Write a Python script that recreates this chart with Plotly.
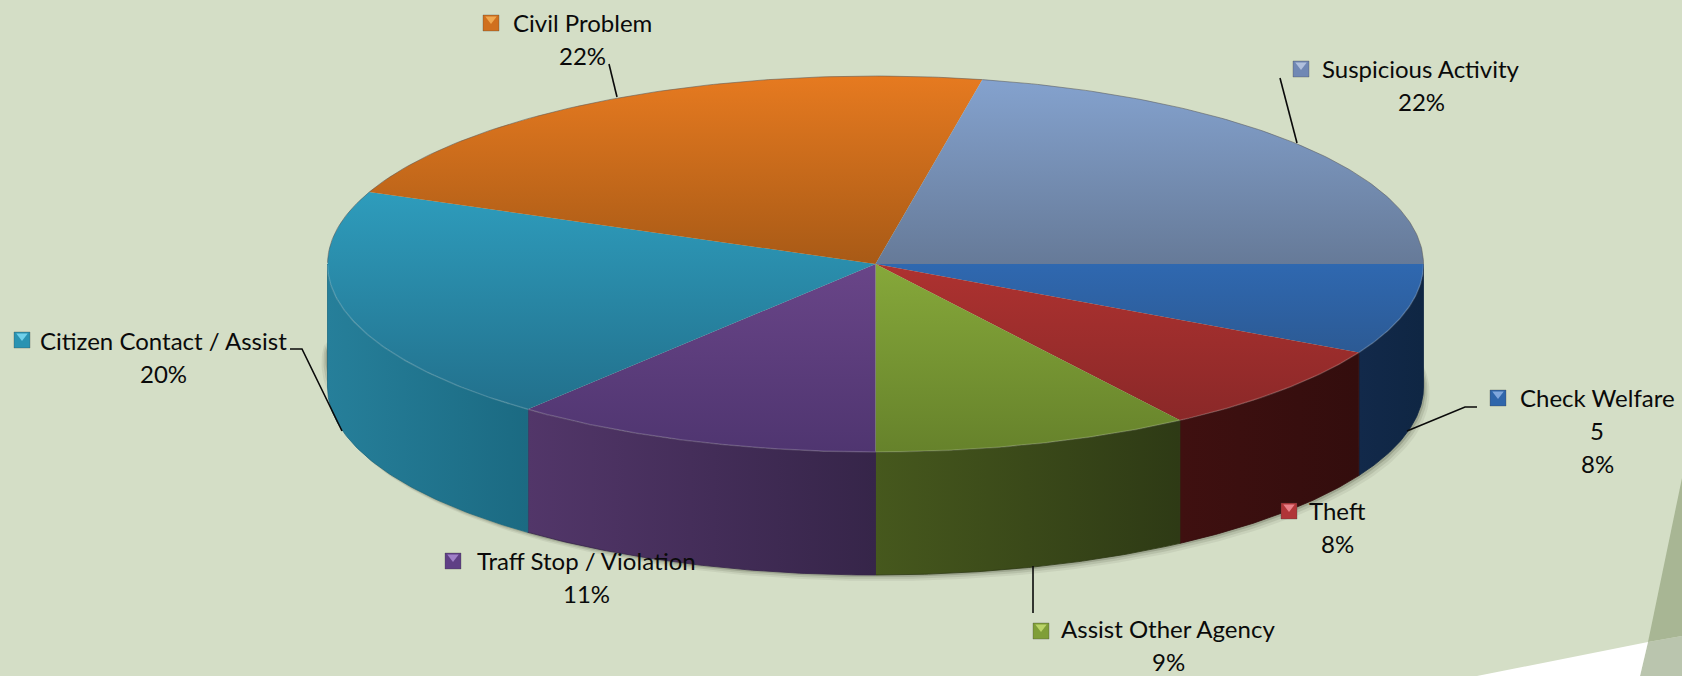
import numpy as np
import plotly.graph_objects as go

# ---- data (clockwise from 3 o'clock)
categories = ["Check Welfare", "Theft", "Assist Other Agency", "Traff Stop / Violation",
              "Citizen Contact / Assist", "Civil Problem", "Suspicious Activity"]
values = [5, 5, 6, 7, 13, 14, 14]
percent_labels = ["8%", "8%", "9%", "11%", "20%", "22%", "22%"]
extra_lines = ["5", "", "", "", "", "", ""]

# ---- style
top_start = ["#2F68B0", "#AE3230", "#86A83A", "#694588", "#2E9CBC", "#E67A20", "#84A2CE"]
top_stop = ["#2C5A94", "#8A2828", "#66822B", "#4F3570", "#22708C", "#A85A16", "#667A98"]
wall_start = ["#0F2643", "#330D0D", "#2E3A15", "#362549", "#1B6A82", "", ""]
wall_stop = ["#12294A", "#3F1010", "#46581D", "#523669", "#267F9A", "", ""]
key_colors = ["#2F66AB", "#B03538", "#7F9E38", "#5F3F85", "#2A93B2", "#D0701E", "#7088B4"]
key_light = ["#7FA6DC", "#E88088", "#BAD468", "#A080C8", "#70D0EA", "#F0A850", "#B0C0DC"]

BG = "#D4DEC6"
CX, CY, RX, RY, DEPTH = 875.5, 264, 548, 188, 123
FONT = dict(family="Lato, Carlito, Calibri, sans-serif", size=24, color="#0A0A0A")

# label anchors: text centre x, first line y, key x, key y
label_pos = [(1597, 397, 1498, 398), (1337, 510, 1289, 511), (1168, 628.5, 1041, 631),
             (586, 560, 453, 561), (163, 340, 22, 340), (582, 22, 491, 23), (1421, 68, 1301, 69)]
LINE_H = 33
leaders = {
    "Check Welfare": ([1477, 1465, 1407], [407, 407, 431]),
    "Assist Other Agency": ([1033, 1033], [566, 613]),
    "Citizen Contact / Assist": ([290, 302, 342], [349, 349, 431]),
    "Civil Problem": ([609, 617], [64, 97]),
    "Suspicious Activity": ([1280, 1297], [78, 143]),
}


def pt(theta, dy=0.0):
    return CX + RX * np.cos(theta), CY + RY * np.sin(theta) + dy


fig = go.Figure()


def add(xs, ys, **kw):
    fig.add_trace(go.Scatter(x=xs, y=ys, hoverinfo="skip", showlegend=False, **kw))


# soft shadow beneath the wall
th = np.linspace(-0.1, np.pi + 0.1, 200)
for off, alpha in [(6, 0.08), (4, 0.12), (2, 0.2)]:
    sx, sy = pt(th, DEPTH + off)
    add(np.r_[sx + off, sx[::-1] - off], np.r_[sy, sy[::-1] - 30], mode="lines",
        line=dict(width=0), fill="toself", fillcolor=f"rgba(60,65,45,{alpha})")

fracs = np.array(values, float) / sum(values)
edges = np.r_[0, np.cumsum(fracs)] * 2 * np.pi

# side walls
for i in range(len(values)):
    a, b = edges[i], min(edges[i + 1], np.pi)
    if a >= np.pi:
        continue
    t = np.linspace(a, b, 80)
    x1, y1 = pt(t)
    x2, y2 = pt(t[::-1], DEPTH)
    add(np.r_[x1, x2, x1[0]], np.r_[y1, y2, y1[0]], mode="lines",
        line=dict(width=0.8, color=wall_start[i]), fill="toself",
        fillgradient=dict(type="horizontal",
                          colorscale=[[0, wall_stop[i]], [1, wall_start[i]]]))

# top faces
for i in range(len(values)):
    t = np.linspace(edges[i], edges[i + 1], 120)
    x, y = pt(t)
    add(np.r_[CX, x, CX], np.r_[CY, y, CY], mode="lines", line=dict(width=0), fill="toself",
        fillgradient=dict(type="vertical",
                          colorscale=[[0, top_stop[i]], [1, top_start[i]]]))
    # rim: pale bevel along the front, grey along the back
    front = t[np.sin(t) >= 0]
    back = t[np.sin(t) < 0]
    if len(front) > 1:
        add(*pt(front), mode="lines", line=dict(width=1.5, color="rgba(255,255,255,0.16)"))
    if len(back) > 1:
        add(*pt(back), mode="lines", line=dict(width=1, color="rgba(90,90,90,0.55)"))

# leader lines
for name, (lx, ly) in leaders.items():
    add(lx, ly, mode="lines", line=dict(width=1.6, color="#0A0A0A"))

# labels with keys
for i, name in enumerate(categories):
    tx, ty, kx, ky = label_pos[i]
    lines = [name] + ([extra_lines[i]] if extra_lines[i] else []) + [percent_labels[i]]
    for j, s in enumerate(lines):
        fig.add_annotation(x=tx, y=ty + j * LINE_H, text=s, showarrow=False, font=FONT,
                           xanchor="center", yanchor="middle")
    add([kx], [ky], mode="markers", marker=dict(
        symbol="square", size=16, color=key_colors[i],
        line=dict(width=1, color="rgba(60,60,60,0.3)")))
    add([kx], [ky - 4], mode="markers", marker=dict(
        symbol="triangle-down", size=10, color=key_light[i], line=dict(width=0)))

# theme decoration, bottom-right corner
deco = [
    ("path", "M1682,478 L1648,642 L1682,636 Z", "#A8B694"),
    ("path", "M1648,642 L1640,676 L1682,676 L1682,636 Z", "#BAC5AE"),
    ("path", "M1477,676 L1648,642 L1640,676 Z", "#FFFFFF"),
]
shapes = [dict(type="path", path=p, fillcolor=c, line=dict(width=0), layer="below")
          for _, p, c in deco]

fig.update_layout(
    width=1682, height=676, margin=dict(l=0, r=0, t=0, b=0),
    paper_bgcolor=BG, plot_bgcolor=BG, showlegend=False, shapes=shapes,
    xaxis=dict(range=[0, 1682], visible=False, fixedrange=True),
    yaxis=dict(range=[676, 0], visible=False, fixedrange=True),
)
fig.write_html("out.html", post_script="document.body.style.margin='0';document.body.style.overflow='hidden';",
               config={"displayModeBar": False})
